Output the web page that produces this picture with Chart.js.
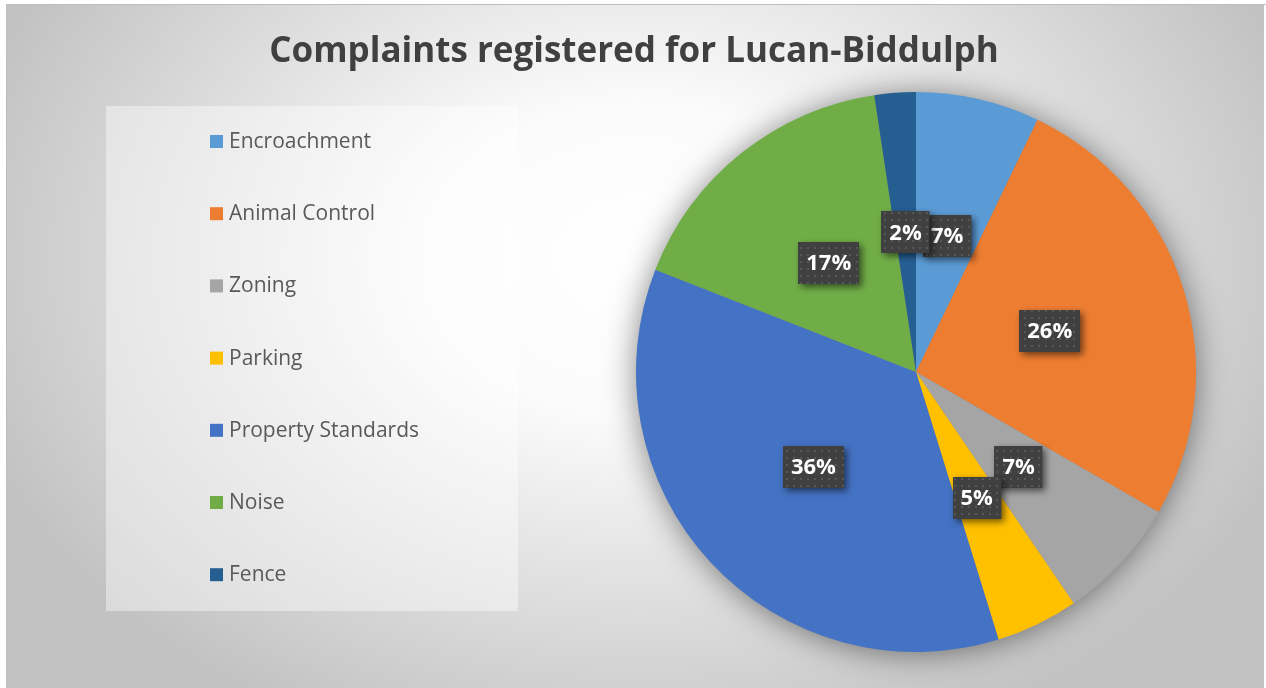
<!DOCTYPE html>
<html>
<head>
<meta charset="utf-8">
<title>Complaints registered for Lucan-Biddulph</title>
<script src="https://cdn.jsdelivr.net/npm/chart.js@4.4.1/dist/chart.umd.min.js"></script>
<style>
  html, body { margin: 0; padding: 0; background: #fff; overflow: hidden; }
  #wrap { position: absolute; left: 0; top: 0; width: 1266px; height: 688px; }
</style>
</head>
<body>
<div id="wrap"><canvas id="complaints" width="1266" height="688"></canvas></div>
<script>
// data (42 complaints in total)
const chartTitle = "Complaints registered for Lucan-Biddulph";
const categories = ["Encroachment", "Animal Control", "Zoning", "Parking", "Property Standards", "Noise", "Fence"];
const complaints = [3, 11, 3, 2, 15, 7, 1];
const sliceColors = ["#5B9BD5", "#ED7D31", "#A5A5A5", "#FFC000", "#4472C4", "#70AD47", "#255E91"];

// little dotted tile for the label boxes
function makeDotPattern(ctx) {
  const tile = document.createElement("canvas");
  tile.width = 7;
  tile.height = 7;
  const t = tile.getContext("2d");
  t.fillStyle = "#404040";
  t.fillRect(0, 0, 7, 7);
  t.fillStyle = "#575757";
  t.fillRect(2, 2, 2, 2);
  return ctx.createPattern(tile, "repeat");
}

// background, frame, legend panel, title and the soft shadow under the pie
const backdrop = {
  id: "backdrop",
  beforeDraw(chart) {
    const ctx = chart.ctx;
    const w = chart.width, h = chart.height;
    ctx.save();
    ctx.fillStyle = "#ffffff";
    ctx.fillRect(0, 0, w, h);

    // elliptical grey gradient
    ctx.save();
    ctx.beginPath();
    ctx.rect(6, 5, w - 8, h - 5);
    ctx.clip();
    ctx.translate(640, 260);
    ctx.scale(1, 520 / 700);
    const g = ctx.createRadialGradient(0, 0, 0, 0, 0, 700);
    g.addColorStop(0, "#ffffff");
    g.addColorStop(0.3, "#fbfbfb");
    g.addColorStop(1, "#c2c2c2");
    ctx.fillStyle = g;
    ctx.fillRect(-700, -1000, 1400, 2000);
    ctx.restore();

    ctx.strokeStyle = "#bdbdbd";
    ctx.lineWidth = 1;
    ctx.beginPath();
    ctx.moveTo(6.5, h);
    ctx.lineTo(6.5, 4.5);
    ctx.lineTo(w, 4.5);
    ctx.stroke();

    // legend panel
    ctx.fillStyle = "rgba(255,255,255,0.42)";
    ctx.fillRect(106, 106, 412, 505);

    // title
    ctx.fillStyle = "#404040";
    ctx.font = "bold 35px 'Open Sans'";
    ctx.textAlign = "center";
    ctx.textBaseline = "middle";
    ctx.fillText(chart.options.plugins.title.text, 634, 52);

    // legend entries
    ctx.font = "21px 'Open Sans'";
    ctx.textAlign = "left";
    chart.data.labels.forEach((name, i) => {
      const y = 141 + i * 72.2;
      ctx.fillStyle = chart.data.datasets[0].backgroundColor[i];
      ctx.fillRect(210, y - 6, 13, 13);
      ctx.fillStyle = "#595959";
      ctx.fillText(name, 229, y + 1);
    });
    ctx.restore();
  },
  beforeDatasetsDraw(chart) {
    const arc = chart.getDatasetMeta(0).data[0];
    if (!arc) return;
    const ctx = chart.ctx;
    ctx.save();
    ctx.shadowColor = "rgba(0,0,0,0.5)";
    ctx.shadowBlur = 32;
    ctx.shadowOffsetY = 2;
    ctx.fillStyle = "#888";
    ctx.beginPath();
    ctx.arc(arc.x, arc.y, arc.outerRadius - 1, 0, Math.PI * 2);
    ctx.fill();
    ctx.restore();
  }
};

// percentage boxes in the middle of each slice
const percentBoxes = {
  id: "percentBoxes",
  afterDatasetsDraw(chart) {
    const ctx = chart.ctx;
    const values = chart.data.datasets[0].data;
    const total = values.reduce((a, b) => a + b, 0);
    const pattern = makeDotPattern(ctx);
    ctx.save();
    ctx.font = "bold 22px 'Open Sans'";
    ctx.textAlign = "center";
    ctx.textBaseline = "middle";
    chart.getDatasetMeta(0).data.forEach((arc, i) => {
      const p = arc.getCenterPoint();
      const txt = Math.round(values[i] / total * 100) + "%";
      const bw = ctx.measureText(txt).width + 16;
      const bh = 42;
      const x = Math.round(p.x - bw / 2), y = Math.round(p.y - bh / 2);
      ctx.save();
      ctx.shadowColor = "rgba(0,0,0,0.55)";
      ctx.shadowBlur = 7;
      ctx.shadowOffsetX = 3;
      ctx.shadowOffsetY = 3;
      ctx.fillStyle = pattern;
      ctx.fillRect(x, y, bw, bh);
      ctx.restore();
      ctx.fillStyle = "#ffffff";
      ctx.fillText(txt, p.x, p.y + 1);
    });
    ctx.restore();
  }
};

const data = {
  labels: categories,
  datasets: [{
    data: complaints,
    backgroundColor: sliceColors,
    borderWidth: 0
  }]
};

const config = {
  type: "pie",
  data,
  options: {
    responsive: false,
    animation: false,
    layout: { padding: { left: 636, right: 70, top: 92, bottom: 36 } },
    plugins: {
      title: { display: false, text: chartTitle },
      legend: { display: false },
      tooltip: { enabled: false }
    }
  },
  plugins: [backdrop, percentBoxes]
};

const canvas = document.getElementById("complaints");
const pieChart = new Chart(canvas, config);
</script>
</body>
</html>
